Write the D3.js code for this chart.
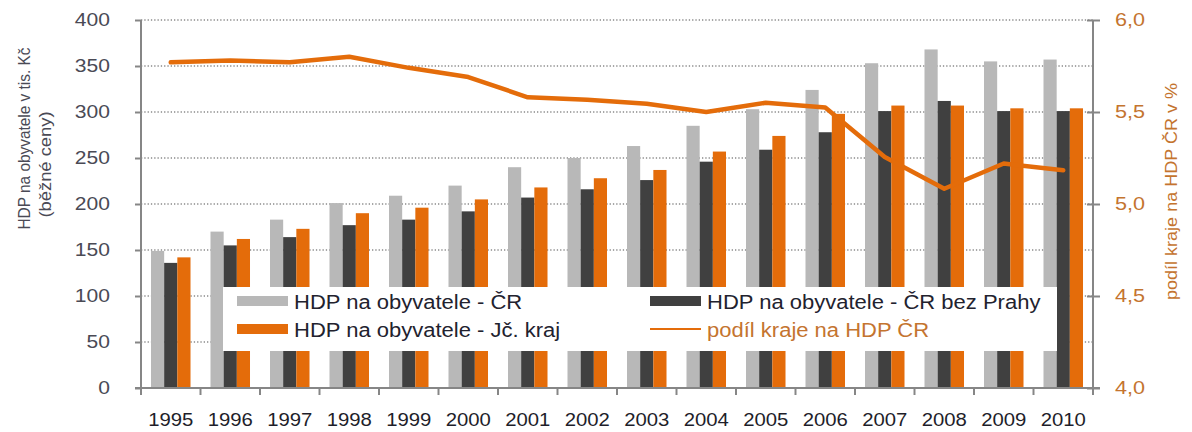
<!DOCTYPE html>
<html>
<head>
<meta charset="utf-8">
<script src="https://cdn.jsdelivr.net/npm/d3@7"></script>
<style>
  body { margin: 0; background: #fff; }
  svg { display: block; font-family: "Liberation Sans", Arial, sans-serif; }
</style>
</head>
<body>
<div id="chart"></div>
<script>
// data
const years = ["1995","1996","1997","1998","1999","2000","2001","2002","2003","2004","2005","2006","2007","2008","2009","2010"]
const hdpCR      = [149, 170, 183, 201, 209, 220, 240, 250, 263, 285, 303, 324, 353, 368, 355, 357]
const hdpBezPrahy = [136, 155, 164, 177, 183, 192, 207, 216, 226, 246, 259, 278, 301, 312, 301, 301]
const hdpJc      = [142, 162, 173, 190, 196, 205, 218, 228, 237, 257, 274, 298, 307, 307, 304, 304]
const podil      = [5.77, 5.78, 5.77, 5.80, 5.74, 5.69, 5.58, 5.567, 5.545, 5.50, 5.55, 5.525, 5.255, 5.083, 5.22, 5.183]
const leftTicks  = [0, 50, 100, 150, 200, 250, 300, 350, 400]
const rightTicks = [4.0, 4.5, 5.0, 5.5, 6.0]

const seriesNames = ["HDP na obyvatele - ČR", "HDP na obyvatele - ČR bez Prahy", "HDP na obyvatele - Jč. kraj"]
const seriesColors = ["#b8b8b8", "#404040", "#e46c0a"]
const lineName = "podíl kraje na HDP ČR"

const W = 1192, H = 432
const plot = { left: 141, right: 1093, top: 20, bottom: 388 }

const svg = d3.select("#chart").append("svg")
    .attr("width", W)
    .attr("height", H)

// the original is a bit wider than tall, stretch text to match
function stretch(sel, k) {
    sel.each(function() {
        const len = this.getComputedTextLength()
        d3.select(this).attr("textLength", len * k).attr("lengthAdjust", "spacingAndGlyphs")
    })
}

// scales
const x = d3.scaleBand()
    .domain(years)
    .range([plot.left, plot.right])
    .paddingInner(0.336)
    .paddingOuter(0.168)

const xs = d3.scaleBand()
    .domain([0, 1, 2])
    .range([0, x.bandwidth()])

const y = d3.scaleLinear().domain([0, 400]).range([plot.bottom, plot.top])
const yR = d3.scaleLinear().domain([4, 6]).range([plot.bottom, plot.top])

// dotted gridlines
svg.selectAll("line.grid")
    .data(leftTicks.filter(d => d > 0))
    .enter()
    .append("line")
    .attr("class", "grid")
    .attr("x1", plot.left)
    .attr("x2", plot.right)
    .attr("y1", d => y(d))
    .attr("y2", d => y(d))
    .style("stroke", "#8a8a8a")
    .style("stroke-width", 1.3)
    .style("stroke-dasharray", "1.3 2")

// bars
const rows = years.map((yr, i) => ({ year: yr, vals: [hdpCR[i], hdpBezPrahy[i], hdpJc[i]] }))

const groups = svg.selectAll("g.year")
    .data(rows)
    .enter()
    .append("g")
    .attr("class", "year")
    .attr("transform", d => "translate(" + x(d.year) + ",0)")

groups.selectAll("rect")
    .data(d => d.vals)
    .enter()
    .append("rect")
    .attr("x", (d, i) => xs(i))
    .attr("y", d => y(d))
    .attr("width", xs.bandwidth())
    .attr("height", d => y(0) - y(d))
    .style("fill", (d, i) => seriesColors[i])

// axes
const axisColor = "#868686"

const yAxis = d3.axisLeft(y).tickValues(leftTicks).tickSize(6).tickFormat("")
svg.append("g")
    .attr("transform", "translate(" + plot.left + ",0)")
    .call(yAxis)
    .call(g => g.selectAll("line, path").style("stroke", axisColor).style("stroke-width", 2))
    .call(g => g.select(".domain").attr("d", "M0," + plot.top + "V" + plot.bottom))

svg.selectAll("text.ylab")
    .data(leftTicks)
    .enter()
    .append("text")
    .attr("class", "ylab")
    .attr("x", 110)
    .attr("y", d => y(d))
    .attr("dy", "0.36em")
    .style("text-anchor", "end")
    .style("font-size", "18px")
    .style("fill", "#4a4a55")
    .text(d => d)
    .call(stretch, 1.17)

const yAxisR = d3.axisRight(yR).tickValues(rightTicks).tickSize(7).tickFormat("")
svg.append("g")
    .attr("transform", "translate(" + plot.right + ",0)")
    .call(yAxisR)
    .call(g => g.selectAll("line, path").style("stroke", axisColor).style("stroke-width", 2))
    .call(g => g.select(".domain").attr("d", "M0," + plot.top + "V" + plot.bottom))
    .call(g => g.selectAll(".tick line").attr("x1", -6))

svg.selectAll("text.rlab")
    .data(rightTicks)
    .enter()
    .append("text")
    .attr("class", "rlab")
    .attr("x", 1115)
    .attr("y", d => yR(d))
    .attr("dy", "0.36em")
    .style("font-size", "18px")
    .style("fill", "#c4742f")
    .text(d => d.toFixed(1).replace(".", ","))
    .call(stretch, 1.2)

// x axis: ticks sit between the years
const xAxis = d3.axisBottom(x).tickSize(0).tickFormat("")
svg.append("g")
    .attr("transform", "translate(0," + plot.bottom + ")")
    .call(xAxis)
    .call(g => g.select(".domain").attr("d", "M" + (plot.left - 6) + ",0H" + (plot.right + 7))
        .style("stroke", axisColor).style("stroke-width", 2))

svg.selectAll("line.xtick")
    .data(years.concat(["end"]))
    .enter()
    .append("line")
    .attr("class", "xtick")
    .attr("x1", (d, i) => plot.left + i * x.step())
    .attr("x2", (d, i) => plot.left + i * x.step())
    .attr("y1", plot.bottom)
    .attr("y2", plot.bottom + 7)
    .style("stroke", axisColor)
    .style("stroke-width", 2)

svg.selectAll("text.xlab")
    .data(years)
    .enter()
    .append("text")
    .attr("class", "xlab")
    .attr("x", d => x(d) + x.bandwidth() / 2)
    .attr("y", 426)
    .style("text-anchor", "middle")
    .style("font-size", "17.5px")
    .style("fill", "#1e1e2a")
    .text(d => d)
    .call(stretch, 1.16)

// line for the region share
const line = d3.line()
    .x((d, i) => x(years[i]) + x.bandwidth() / 2)
    .y(d => yR(d))

svg.append("path")
    .datum(podil)
    .attr("d", line)
    .style("fill", "none")
    .style("stroke", "#e46c0a")
    .style("stroke-width", 4.5)
    .style("stroke-linejoin", "round")
    .style("stroke-linecap", "round")

// axis titles
svg.append("text")
    .attr("transform", "translate(30,138.5) rotate(-90)")
    .style("text-anchor", "middle")
    .style("font-size", "17px")
    .style("fill", "#4a4a55")
    .attr("textLength", 182)
    .attr("lengthAdjust", "spacingAndGlyphs")
    .text("HDP na obyvatele v tis. Kč")

svg.append("text")
    .attr("transform", "translate(51,164.5) rotate(-90)")
    .style("text-anchor", "middle")
    .style("font-size", "17px")
    .style("fill", "#4a4a55")
    .attr("textLength", 106)
    .attr("lengthAdjust", "spacingAndGlyphs")
    .text("(běžné ceny)")

svg.append("text")
    .attr("transform", "translate(1177,191.5) rotate(-90)")
    .style("text-anchor", "middle")
    .style("font-size", "17px")
    .style("fill", "#c4742f")
    .attr("textLength", 217)
    .attr("lengthAdjust", "spacingAndGlyphs")
    .text("podíl kraje na HDP ČR v %")

// legend, white box sits on top of the bars
const legend = svg.append("g")
legend.append("rect")
    .attr("x", 223)
    .attr("y", 287)
    .attr("width", 1057 - 223)
    .attr("height", 351 - 287)
    .style("fill", "#fff")

const legendItems = [
    { name: seriesNames[0], color: seriesColors[0], type: "bar", x: 237, y: 301 },
    { name: seriesNames[1], color: seriesColors[1], type: "bar", x: 650, y: 301 },
    { name: seriesNames[2], color: seriesColors[2], type: "bar", x: 237, y: 329 },
    { name: lineName, color: "#e46c0a", type: "line", x: 650, y: 329 }
]

legendItems.forEach(d => {
    if (d.type === "bar") {
        legend.append("rect")
            .attr("x", d.x)
            .attr("y", d.y - 5)
            .attr("width", 51)
            .attr("height", 10)
            .style("fill", d.color)
    } else {
        legend.append("line")
            .attr("x1", d.x)
            .attr("x2", d.x + 51)
            .attr("y1", d.y)
            .attr("y2", d.y)
            .style("stroke", d.color)
            .style("stroke-width", 2)
    }
    legend.append("text")
        .attr("x", d.x + 57)
        .attr("y", d.y + 8)
        .style("font-size", "20px")
        .style("fill", d.type === "line" ? "#c4742f" : "#22222e")
        .text(d.name)
        .call(stretch, 1.1)
})
</script>
</body>
</html>
